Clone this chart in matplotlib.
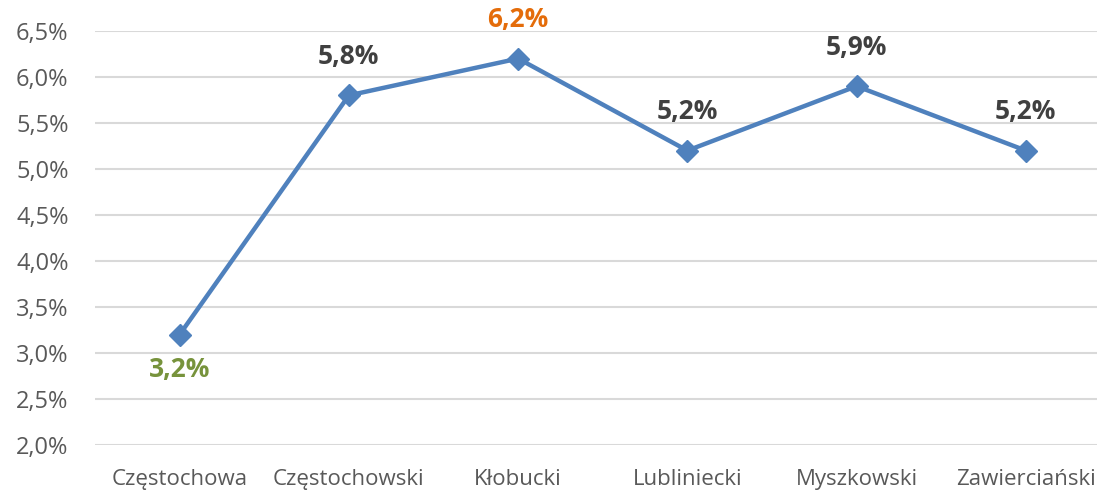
import matplotlib.pyplot as plt
from matplotlib.ticker import FuncFormatter

categories = ['Częstochowa', 'Częstochowski', 'Kłobucki', 'Lubliniecki', 'Myszkowski', 'Zawierciański']
values = [3.2, 5.8, 6.2, 5.2, 5.9, 5.2]
label_colors = ['#77933C', '#404040', '#E46C0A', '#404040', '#404040', '#404040']
label_below = [True, False, False, False, False, False]

plt.rcParams['font.family'] = ['Open Sans', 'DejaVu Sans']

fig = plt.figure(figsize=(10.97, 4.91), dpi=100)
ax = fig.add_axes([0.0866, 0.0937, 0.9257, 0.8432])

x = list(range(len(categories)))
ax.plot(x, values, color='#4F81BD', linewidth=3.2, marker='D', markersize=11, zorder=3)

for xi, v, c, below in zip(x, values, label_colors, label_below):
    off = -25 if below else 28
    ax.annotate(f'{v:.1f}%'.replace('.', ','), (xi, v), xytext=(0, off), textcoords='offset points',
                ha='center', va='center', fontsize=19, fontweight='bold', color=c)

ax.set_xlim(-0.5, len(categories) - 0.5)
ax.set_ylim(2.0, 6.5)
ax.set_yticks([2.0 + 0.5 * i for i in range(10)])
ax.yaxis.set_major_formatter(FuncFormatter(lambda v, p: f'{v:.1f}%'.replace('.', ',')))
ax.set_xticks(x)
ax.set_xticklabels(categories)
ax.tick_params(axis='both', length=0, labelcolor='#595959')
ax.tick_params(axis='y', pad=19, labelsize=17)
ax.tick_params(axis='x', pad=17, labelsize=16)
ax.grid(True, axis='y', color='#D9D9D9', linewidth=1.5)
ax.set_axisbelow(True)
for s in ax.spines.values():
    s.set_visible(False)

fig.savefig('out.png', dpi=100)
